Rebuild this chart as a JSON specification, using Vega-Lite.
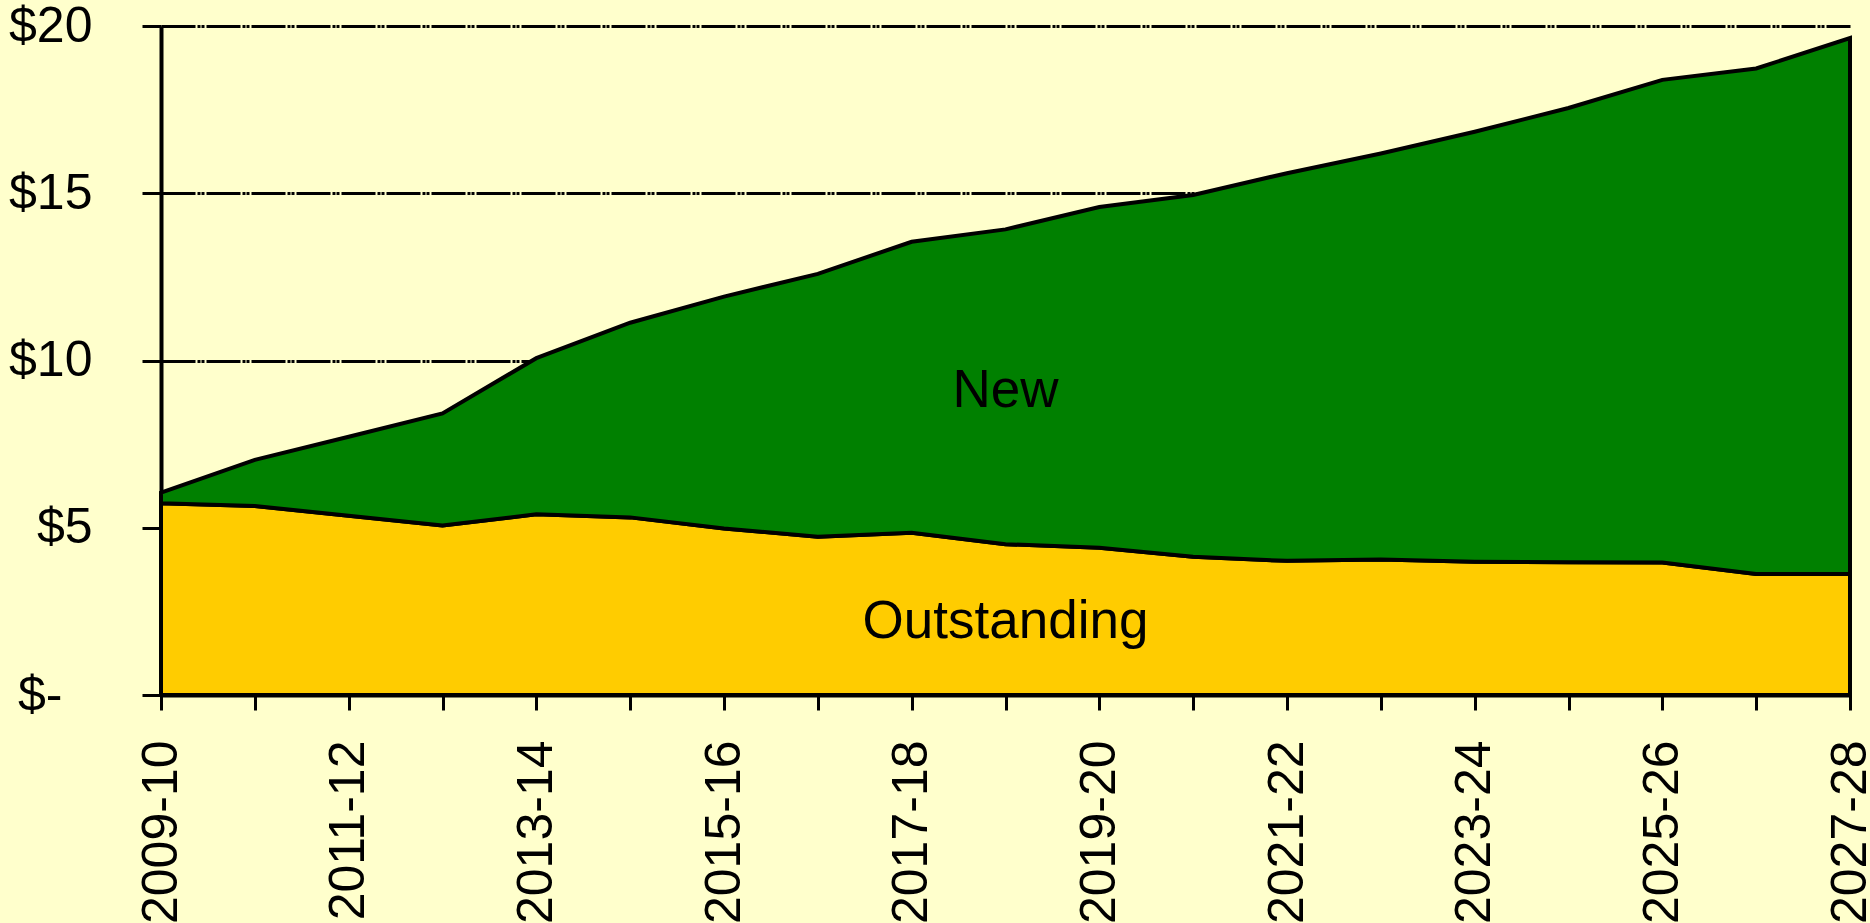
{
  "$schema": "https://vega.github.io/schema/vega-lite/v6.json",
  "autosize": {"type": "none"},
  "padding": {"left": 161, "top": 26, "right": 20, "bottom": 228},
  "width": 1689,
  "height": 669,
  "background": "#FFFFCC",
  "config": {
    "view": {"stroke": null, "fill": "#FFFFCC"},
    "font": "Liberation Sans"
  },
  "layer": [
    {
      "data": {
        "values": [
          {"year": "2009-10", "series": "Outstanding", "value": 5.73},
          {"year": "2010-11", "series": "Outstanding", "value": 5.65},
          {"year": "2011-12", "series": "Outstanding", "value": 5.36},
          {"year": "2012-13", "series": "Outstanding", "value": 5.07},
          {"year": "2013-14", "series": "Outstanding", "value": 5.40},
          {"year": "2014-15", "series": "Outstanding", "value": 5.31},
          {"year": "2015-16", "series": "Outstanding", "value": 4.98},
          {"year": "2016-17", "series": "Outstanding", "value": 4.73},
          {"year": "2017-18", "series": "Outstanding", "value": 4.85},
          {"year": "2018-19", "series": "Outstanding", "value": 4.51},
          {"year": "2019-20", "series": "Outstanding", "value": 4.40},
          {"year": "2020-21", "series": "Outstanding", "value": 4.13},
          {"year": "2021-22", "series": "Outstanding", "value": 4.01},
          {"year": "2022-23", "series": "Outstanding", "value": 4.05},
          {"year": "2023-24", "series": "Outstanding", "value": 3.98},
          {"year": "2024-25", "series": "Outstanding", "value": 3.97},
          {"year": "2025-26", "series": "Outstanding", "value": 3.96},
          {"year": "2026-27", "series": "Outstanding", "value": 3.62},
          {"year": "2027-28", "series": "Outstanding", "value": 3.62},
          {"year": "2009-10", "series": "New", "value": 0.32},
          {"year": "2010-11", "series": "New", "value": 1.38},
          {"year": "2011-12", "series": "New", "value": 2.36},
          {"year": "2012-13", "series": "New", "value": 3.35},
          {"year": "2013-14", "series": "New", "value": 4.67},
          {"year": "2014-15", "series": "New", "value": 5.82},
          {"year": "2015-16", "series": "New", "value": 6.93},
          {"year": "2016-17", "series": "New", "value": 7.86},
          {"year": "2017-18", "series": "New", "value": 8.70},
          {"year": "2018-19", "series": "New", "value": 9.41},
          {"year": "2019-20", "series": "New", "value": 10.19},
          {"year": "2020-21", "series": "New", "value": 10.82},
          {"year": "2021-22", "series": "New", "value": 11.59},
          {"year": "2022-23", "series": "New", "value": 12.14},
          {"year": "2023-24", "series": "New", "value": 12.86},
          {"year": "2024-25", "series": "New", "value": 13.58},
          {"year": "2025-26", "series": "New", "value": 14.43},
          {"year": "2026-27", "series": "New", "value": 15.11},
          {"year": "2027-28", "series": "New", "value": 16.02}
        ]
      },
      "mark": {"type": "area", "stroke": "black", "strokeWidth": 4, "strokeJoin": "miter", "opacity": 1},
      "encoding": {
        "x": {
          "field": "year",
          "type": "ordinal",
          "scale": {
            "type": "point",
            "padding": 0,
            "domain": ["2009-10","2010-11","2011-12","2012-13","2013-14","2014-15","2015-16","2016-17","2017-18","2018-19","2019-20","2020-21","2021-22","2022-23","2023-24","2024-25","2025-26","2026-27","2027-28"]
          },
          "axis": {
            "title": null,
            "labelAngle": 270,
            "labelAlign": "right",
            "labelBaseline": "middle",
            "labelFontSize": 50,
            "labelFont": "Liberation Sans",
            "labelColor": "black",
            "labelPadding": 30,
            "labelOverlap": false,
            "labelLimit": 0,
            "labelExpr": "toNumber(substring(datum.value,0,4)) % 2 == 1 ? datum.value : ''",
            "tickSize": 15,
            "tickWidth": 3,
            "tickColor": "black",
            "tickOpacity": 1,
            "domainColor": "black",
            "domainWidth": 4,
            "domainOpacity": 1,
            "grid": false
          }
        },
        "y": {
          "field": "value",
          "type": "quantitative",
          "stack": "zero",
          "scale": {"domain": [0, 20], "nice": false},
          "axis": {
            "title": null,
            "values": [0, 5, 10, 15, 20],
            "labelExpr": "datum.value == 0 ? '$-' : '$' + datum.value",
            "labelFontSize": 50,
            "labelFont": "Liberation Sans",
            "labelColor": "black",
            "labelPadding": {"condition": {"test": "datum.value == 0", "value": 80}, "value": 50},
            "labelLimit": 0,
            "labelAlign": "right",
            "labelBaseline": "middle",
            "tickSize": 19,
            "tickWidth": 3,
            "tickColor": "black",
            "tickOpacity": 1,
            "domainColor": "black",
            "domainWidth": 4,
            "domainOpacity": 1,
            "grid": true,
            "gridColor": "black",
            "gridOpacity": 1,
            "gridWidth": 3,
            "gridDash": [34, 2, 3, 1, 3, 2]
          }
        },
        "color": {
          "field": "series",
          "type": "nominal",
          "scale": {"domain": ["New", "Outstanding"], "range": ["#008000", "#FFCC00"]},
          "legend": null
        },
        "order": {"field": "series", "sort": "descending"}
      }
    },
    {
      "data": {
        "values": [
          {"year": "2018-19", "label": "New", "value": 8.61},
          {"year": "2018-19", "label": "Outstanding", "value": 1.70}
        ]
      },
      "mark": {"type": "text", "font": "Liberation Sans", "fontSize": 53, "color": "black", "align": "center", "baseline": "alphabetic"},
      "encoding": {
        "x": {"field": "year", "type": "ordinal"},
        "y": {"field": "value", "type": "quantitative"},
        "text": {"field": "label"}
      }
    }
  ]
}
